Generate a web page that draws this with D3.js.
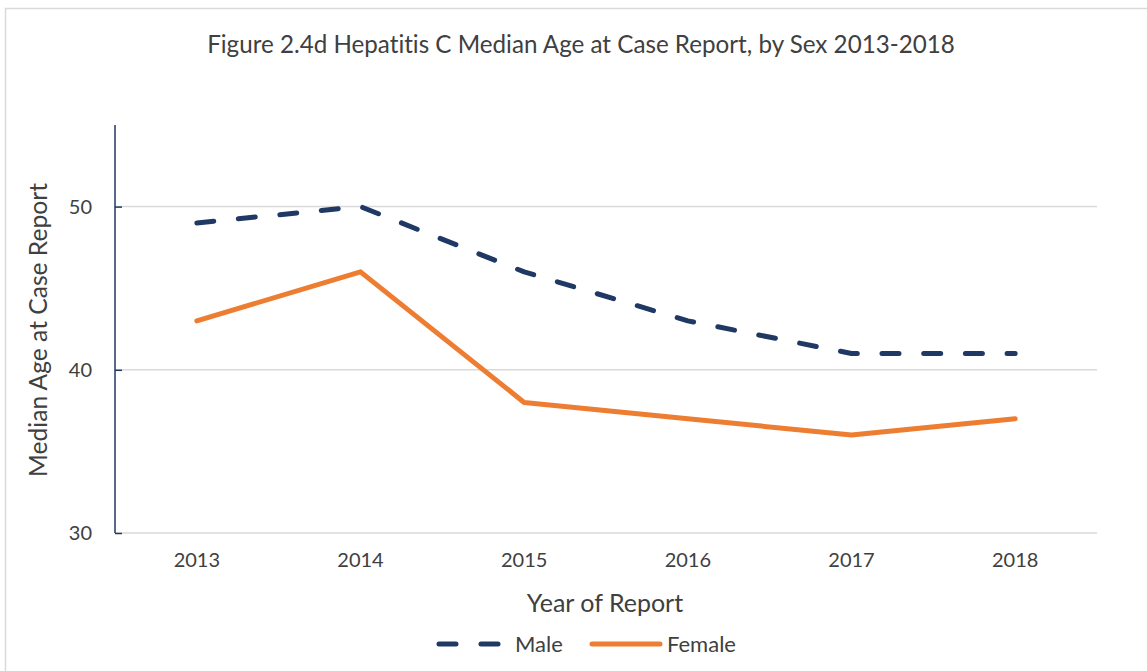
<!DOCTYPE html>
<html><head><meta charset="utf-8">
<script src="https://cdn.jsdelivr.net/npm/d3@7"></script>
<style>body{margin:0;background:#fff;} text{font-family:Lato,"Open Sans",sans-serif;fill:#404040;font-variant-ligatures:none;}</style>
</head><body>
<svg id="c" width="1147" height="671"></svg>
<script>
const years = ["2013","2014","2015","2016","2017","2018"];
const male = [49, 50, 46, 43, 41, 41];
const female = [43, 46, 38, 37, 36, 37];
const yTicks = [30, 40, 50];
const title = "Figure 2.4d Hepatitis C Median Age at Case Report, by Sex 2013-2018";

(function(){
const svg = d3.select("#c");
svg.append("rect").attr("x",5.5).attr("y",8.5).attr("width",1160).attr("height",680)
  .attr("fill","#fff").attr("stroke","#d9d9d9").attr("stroke-width",1.5);

const pL=115, pR=1097, pT=125, pB=533;
const x = d3.scaleBand().domain(years).range([pL,pR]);
const y = d3.scaleLinear().domain([30,55]).range([pB,pT]);

// gridlines
svg.append("g").selectAll("line").data(yTicks).join("line")
  .attr("x1",pL).attr("x2",pR).attr("y1",d=>y(d)).attr("y2",d=>y(d))
  .attr("stroke","#d9d9d9").attr("stroke-width",1.5);

// y axis
const ya = svg.append("g").attr("transform",`translate(${pL},0)`)
  .call(d3.axisRight(y).tickValues(yTicks).tickSize(7).tickFormat(""));
ya.select(".domain").remove();
ya.selectAll("line").attr("stroke","#203864").attr("stroke-width",1.5);
svg.append("line").attr("x1",pL).attr("x2",pL).attr("y1",pT).attr("y2",pB)
  .attr("stroke","#203864").attr("stroke-width",1.5);
svg.append("g").selectAll("text").data(yTicks).join("text")
  .attr("x",92).attr("y",d=>y(d)).attr("dy","0.35em").attr("text-anchor","end")
  .attr("font-size",20).text(d=>d);

// x labels
const xa = svg.append("g").attr("transform",`translate(0,${pB})`)
  .call(d3.axisBottom(x).tickSize(0).tickPadding(20));
xa.select(".domain").remove();
xa.selectAll("text").attr("font-size",20).style("font-family","Lato,'Open Sans',sans-serif").attr("fill","#404040");

const line = d3.line().x((d,i)=>x(years[i])+x.bandwidth()/2).y(d=>y(d));
svg.append("path").datum(female).attr("d",line).attr("fill","none")
  .attr("stroke","#ED7D31").attr("stroke-width",5).attr("stroke-linejoin","round").attr("stroke-linecap","round");
svg.append("path").datum(male).attr("d",line).attr("fill","none")
  .attr("stroke","#203864").attr("stroke-width",5).attr("stroke-linejoin","round").attr("stroke-linecap","round")
  .attr("stroke-dasharray","17,24.7");

// titles
svg.append("text").attr("x",581).attr("y",45).attr("dy","0.35em").attr("text-anchor","middle")
  .attr("font-size",24.2).text(title);
svg.append("text").attr("x",605).attr("y",603).attr("dy","0.35em").attr("text-anchor","middle")
  .attr("font-size",25).text("Year of Report");
svg.append("text").attr("transform","translate(38,330) rotate(-90)").attr("dy","0.35em")
  .attr("text-anchor","middle").attr("font-size",24.6).text("Median Age at Case Report");

// legend
const lg = svg.append("g");
lg.append("line").attr("x1",439).attr("x2",501).attr("y1",644).attr("y2",644)
  .attr("stroke","#203864").attr("stroke-width",5).attr("stroke-linecap","round").attr("stroke-dasharray","17,25");
lg.append("text").attr("x",515).attr("y",644).attr("dy","0.35em").attr("font-size",22).text("Male");
lg.append("line").attr("x1",592).attr("x2",660).attr("y1",644).attr("y2",644)
  .attr("stroke","#ED7D31").attr("stroke-width",5).attr("stroke-linecap","round");
lg.append("text").attr("x",667).attr("y",644).attr("dy","0.35em").attr("font-size",22).text("Female");
})();
</script>
</body></html>
